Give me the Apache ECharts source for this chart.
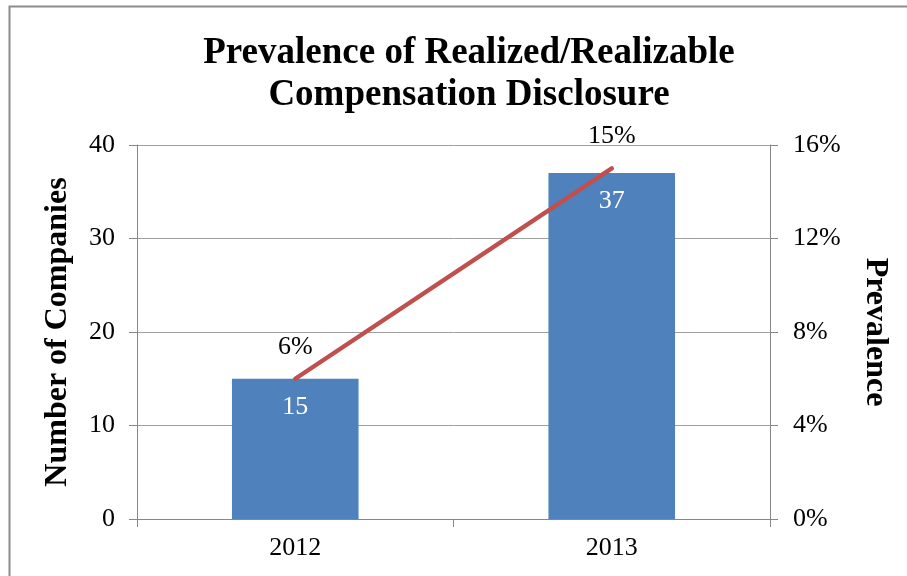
<!DOCTYPE html>
<html>
<head>
<meta charset="utf-8">
<script src="https://cdn.jsdelivr.net/npm/echarts@6/dist/echarts.min.js"></script>
<style>
  html, body { margin: 0; padding: 0; background: #fff; }
  #chart { width: 907px; height: 576px; }
</style>
</head>
<body>
<div id="chart"></div>
<script>
// Realized/realizable pay disclosure by year
const years = ['2012', '2013'];
const companies = [15, 37];
const prevalence = [6, 15];
const countTicks = [0, 10, 20, 30, 40];
const pctTicks = [0, 4, 8, 12, 16];

const serif = '"Liberation Serif", "Times New Roman", serif';
const chart = echarts.init(document.getElementById('chart'));

chart.setOption({
  backgroundColor: '#ffffff',
  animation: false,
  title: {
    text: 'Prevalence of Realized/Realizable\nCompensation Disclosure',
    left: 464,
    top: 27,
    textAlign: 'center',
    textStyle: {
      fontFamily: serif,
      fontWeight: 'bold',
      fontSize: 37,
      lineHeight: 42,
      color: '#000'
    }
  },
  graphic: [{
    type: 'rect',
    shape: { x: 9.5, y: 6.5, width: 1000, height: 700 },
    style: { fill: 'none', stroke: '#8c8c8c', lineWidth: 2 },
    silent: true
  }],
  grid: { left: 137, right: 137, top: 145, bottom: 57 },
  xAxis: {
    type: 'category',
    data: years,
    boundaryGap: true,
    axisLine: { lineStyle: { color: '#868686', width: 1 } },
    axisTick: { show: true, length: 8, lineStyle: { color: '#868686' } },
    axisLabel: { fontFamily: serif, fontSize: 26, color: '#000', margin: 16 }
  },
  yAxis: [{
    type: 'value',
    min: countTicks[0],
    max: countTicks[countTicks.length - 1],
    interval: 10,
    name: 'Number of Companies',
    nameLocation: 'middle',
    nameGap: 63,
    nameRotate: 90,
    nameTextStyle: { fontFamily: serif, fontWeight: 'bold', fontSize: 32, color: '#000' },
    axisLine: { show: true, lineStyle: { color: '#868686' } },
    axisTick: { show: true, length: 8, lineStyle: { color: '#868686' } },
    axisLabel: { fontFamily: serif, fontSize: 26, color: '#000', margin: 22 },
    splitLine: { show: true, lineStyle: { color: '#a0a0a0', width: 1 } }
  }, {
    type: 'value',
    min: pctTicks[0],
    max: pctTicks[pctTicks.length - 1],
    interval: 4,
    position: 'right',
    name: 'Prevalence',
    nameLocation: 'middle',
    nameGap: 89,
    nameRotate: -90,
    nameTextStyle: { fontFamily: serif, fontWeight: 'bold', fontSize: 32, color: '#000' },
    axisLine: { show: true, lineStyle: { color: '#868686' } },
    axisTick: { show: true, length: 8, lineStyle: { color: '#868686' } },
    axisLabel: { fontFamily: serif, fontSize: 26, color: '#000', margin: 23, formatter: '{value}%' },
    splitLine: { show: false }
  }],
  series: [{
    type: 'bar',
    data: companies,
    yAxisIndex: 0,
    barWidth: '40%',
    itemStyle: { color: '#4f81bd' },
    label: {
      show: true,
      position: 'insideTop',
      distance: 15,
      fontFamily: serif,
      fontSize: 26,
      color: '#ffffff'
    }
  }, {
    type: 'line',
    data: prevalence,
    yAxisIndex: 1,
    symbol: 'circle',
    symbolSize: 0,
    showSymbol: true,
    lineStyle: { color: '#c0504d', width: 4.5, cap: 'round' },
    itemStyle: { color: '#c0504d' },
    label: {
      show: true,
      position: 'top',
      distance: 19,
      formatter: '{c}%',
      fontFamily: serif,
      fontSize: 26,
      color: '#000'
    }
  }]
});
</script>
</body>
</html>
